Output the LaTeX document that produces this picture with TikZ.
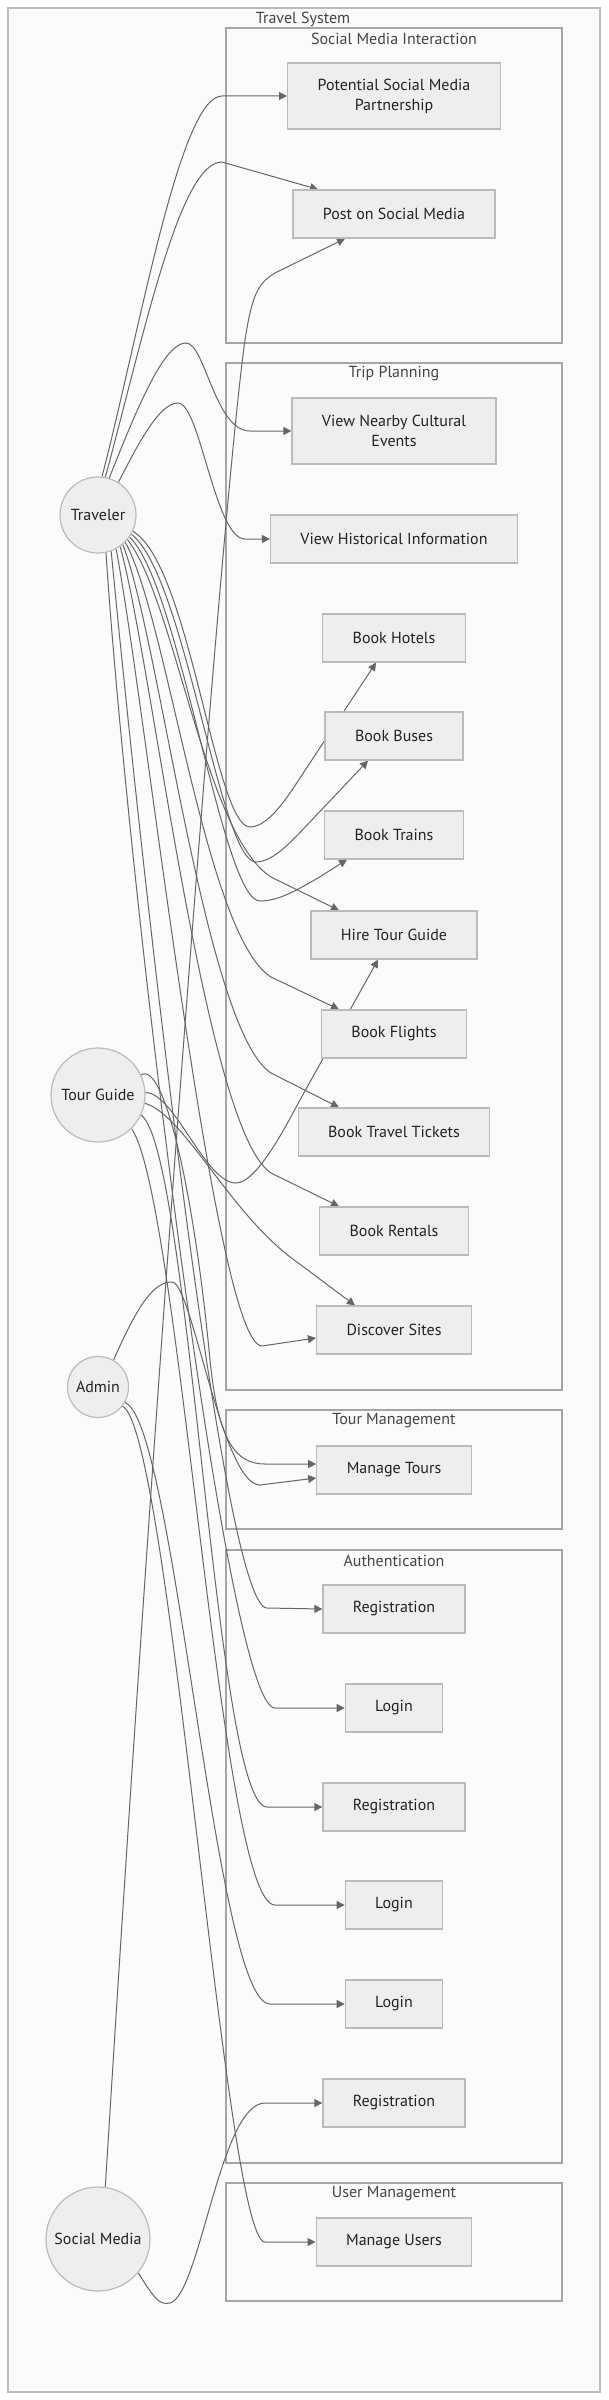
\documentclass[tikz,border=0pt]{standalone}
\usepackage{fontspec}
\setmainfont{PT Sans}
\usetikzlibrary{arrows.meta}

\definecolor{boxfill}{HTML}{EEEEEE}
\definecolor{boxline}{HTML}{BBBBBB}
\definecolor{groupfill}{HTML}{FBFBFB}
\definecolor{groupline}{HTML}{A5A5A5}
\definecolor{linkcol}{HTML}{666666}
\definecolor{textcol}{HTML}{222222}
\definecolor{titlecol}{HTML}{444444}

\pgfdeclarelayer{frames}
\pgfdeclarelayer{links}
\pgfsetlayers{frames,links,main}

\tikzset{
	usecase/.style={draw=boxline, fill=boxfill, line width=1.2pt, minimum height=48pt, inner xsep=30pt, inner ysep=12pt, align=center, text=textcol, font=\fontsize{16}{20}\selectfont},
	actor/.style={circle, draw=boxline, fill=boxfill, line width=1.2pt, inner sep=0pt, text=textcol, font=\fontsize{16}{20}\selectfont},
	groupbox/.style={draw=groupline, fill=groupfill, line width=1.2pt},
	grouptitle/.style={text=titlecol, font=\fontsize{16}{20}\selectfont},
	link/.style={draw=linkcol, line width=1pt, -{Triangle[length=8pt,width=8pt]}}
}

\begin{document}
\begin{tikzpicture}[x=1pt, y=-1pt]
		\useasboundingbox (0,0) rectangle (608,2400);
		% Frames
		\begin{pgfonlayer}{frames}
			\fill[white] (0,0) rectangle (608,2400);
			\draw[groupbox, line width=2pt, draw=boxline] (8,8) rectangle (600,2392);
			\draw[groupbox] (226,28) rectangle (562,343);
			\draw[groupbox] (226,363) rectangle (562,1390);
			\draw[groupbox] (226,1410) rectangle (562,1529);
			\draw[groupbox] (226,1550) rectangle (562,2163);
			\draw[groupbox] (226,2183) rectangle (562,2301);
		\end{pgfonlayer}
		\node[grouptitle] (systemT) at (303,19) {Travel System};
		\node[grouptitle] (socialT) at (394,39) {Social Media Interaction};
		\node[grouptitle] (tripT) at (394,374) {Trip Planning};
		\node[grouptitle] (toursT) at (394,1421) {Tour Management};
		\node[grouptitle] (authT) at (394,1561) {Authentication};
		\node[grouptitle] (usersT) at (394,2194) {User Management};
		% Actors
		\node[actor, minimum size=76pt] (trav) at (98,515) {Traveler};
		\node[actor, minimum size=94pt] (guide) at (98,1095) {Tour Guide};
		\node[actor, minimum size=61pt] (admin) at (98,1387) {Admin};
		\node[actor, minimum size=104pt] (social) at (98,2239) {Social Media};
		% Use cases
		\node[usecase, minimum height=66pt] (partner) at (394,96) {Potential Social Media\\Partnership};
		\node[usecase] (post) at (394,214) {Post on Social Media};
		\node[usecase, minimum height=66pt] (events) at (394,431) {View Nearby Cultural\\Events};
		\node[usecase] (history) at (394,539) {View Historical Information};
		\node[usecase] (hotels) at (394,638) {Book Hotels};
		\node[usecase] (buses) at (394,736) {Book Buses};
		\node[usecase] (trains) at (394,835) {Book Trains};
		\node[usecase] (hire) at (394,935) {Hire Tour Guide};
		\node[usecase] (flights) at (394,1034) {Book Flights};
		\node[usecase] (tickets) at (394,1132) {Book Travel Tickets};
		\node[usecase] (rentals) at (394,1231) {Book Rentals};
		\node[usecase] (sites) at (394,1330) {Discover Sites};
		\node[usecase] (tours) at (394,1470) {Manage Tours};
		\node[usecase] (regA) at (394,1609) {Registration};
		\node[usecase] (loginA) at (394,1708) {Login};
		\node[usecase] (regB) at (394,1807) {Registration};
		\node[usecase] (loginB) at (394,1905) {Login};
		\node[usecase] (loginC) at (394,2004) {Login};
		\node[usecase] (regC) at (394,2103) {Registration};
		\node[usecase] (users) at (394,2242) {Manage Users};
		% Links
		\begin{pgfonlayer}{links}
			% Traveler
			\draw[link] (trav.84) .. controls (140,330) and (180,96) .. (222,96) -- (partner.west);
			\draw[link] (trav.79) .. controls (145,330) and (180,162) .. (222,162) -- ([xshift=-76pt]post.north);
			\draw[link] (trav.73) .. controls (140,400) and (165,343) .. (186,343) .. controls (205,343) and (215,431) .. (250,431) -- (events.west);
			\draw[link] (trav.58) .. controls (140,440) and (160,403) .. (178,403) .. controls (200,403) and (215,539) .. (245,539) -- (history.west);
			\draw[link] (trav.-25) .. controls (190,565) and (215,827) .. (250,827) .. controls (268,827) and (287,798) .. (300,778) -- ([xshift=-18pt]hotels.south);
			\draw[link] (trav.-30) .. controls (185,575) and (220,862) .. (256,862) .. controls (275,862) and (296,836) .. (310,822) -- ([xshift=-26pt]buses.south);
			\draw[link] (trav.-35) .. controls (180,585) and (222,901) .. (260,901) .. controls (280,901) and (300,888) .. (318,878) -- ([xshift=-47pt]trains.south);
			\draw[link] (trav.-40) .. controls (175,600) and (205,835) .. (271,877) -- ([xshift=-55pt]hire.north);
			\draw[link] (trav.-45) .. controls (168,620) and (205,935) .. (271,977) -- ([xshift=-55pt]flights.north);
			\draw[link] (trav.-50) .. controls (160,640) and (205,1030) .. (271,1073) -- ([xshift=-55pt]tickets.north);
			\draw[link] (trav.-55) .. controls (152,660) and (205,1130) .. (271,1173) -- ([xshift=-55pt]rentals.north);
			\draw[link] (trav.-62) .. controls (145,700) and (215,1346) .. (262,1346) -- ([yshift=-8pt]sites.west);
			\draw[link] (trav.-70) .. controls (135,800) and (220,1608) .. (267,1608) -- (regA.west);
			\draw[link] (trav.-78) .. controls (125,850) and (225,1708) .. (275,1708) -- (loginA.west);
			% Tour Guide
			\draw[link] (guide.3) .. controls (175,1093) and (205,1183) .. (236,1183) .. controls (258,1183) and (290,1118) .. (300,1100) -- ([xshift=-16pt]hire.south);
			\draw[link] (guide.-10) .. controls (185,1115) and (230,1215) .. (297,1262) -- ([xshift=-39pt]sites.north);
			\draw[link] (guide.25) .. controls (165,1060) and (195,1200) .. (210,1360) .. controls (218,1440) and (235,1464) .. (265,1464) -- ([yshift=6pt]tours.west);
			\draw[link] (guide.-25) .. controls (190,1150) and (215,1807) .. (267,1807) -- (regB.west);
			\draw[link] (guide.-45) .. controls (180,1200) and (220,1905) .. (275,1905) -- (loginB.west);
			% Admin
			\draw[link] (admin.60) .. controls (140,1300) and (155,1282) .. (172,1282) .. controls (192,1282) and (222,1485) .. (260,1485) -- ([yshift=-8pt]tours.west);
			\draw[link] (admin.-30) .. controls (175,1420) and (215,2004) .. (270,2004) -- (loginC.west);
			\draw[link] (admin.-38) .. controls (170,1430) and (225,2242) .. (265,2242) -- (users.west);
			% Social Media
			\draw[link] (social.82) .. controls (160,1300) and (225,480) .. (245,340) .. controls (252,295) and (258,283) .. (275,273) -- ([xshift=-49pt]post.south);
			\draw[link] (social.-40) .. controls (155,2300) and (160,2305) .. (170,2303) .. controls (200,2295) and (220,2103) .. (265,2103) -- (regC.west);
		\end{pgfonlayer}
	\end{tikzpicture}
\end{document}
